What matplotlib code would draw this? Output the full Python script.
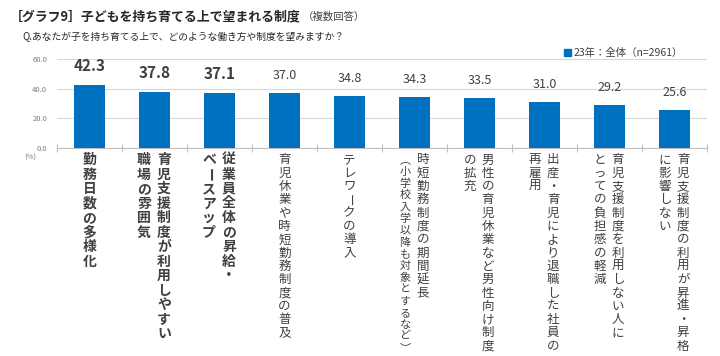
import matplotlib
matplotlib.use('Agg')
import matplotlib.pyplot as plt

plt.rcParams['font.family'] = ['Noto Sans CJK JP', 'DejaVu Sans']

values = [42.3, 37.8, 37.1, 37.0, 34.8, 34.3, 33.5, 31.0, 29.2, 25.6]
# each label is a list of vertical columns, read right to left
labels = [
    ['勤務日数の多様化'],
    ['育児支援制度が利用しやすい', '職場の雰囲気'],
    ['従業員全体の昇給・', 'ベースアップ'],
    ['育児休業や時短勤務制度の普及'],
    ['テレワークの導入'],
    ['時短勤務制度の期間延長', '︵小学校入学以降も対象とするなど︶'],
    ['男性の育児休業など男性向け制度', 'の拡充'],
    ['出産・育児により退職した社員の', '再雇用'],
    ['育児支援制度を利用しない人に', 'とっての負担感の軽減'],
    ['育児支援制度の利用が昇進・昇格', 'に影響しない'],
]
n_bold = 3
yticks = [0, 20, 40, 60]
legend_label = '23年：全体（n=2961）'
title = '［グラフ9］子どもを持ち育てる上で望まれる制度'
title_note = '（複数回答）'
question = 'Q.あなたが子を持ち育てる上で、どのような働き方や制度を望みますか？'

blue = '#0070C0'
text_col = '#404040'

fig = plt.figure(figsize=(7.2, 3.56), dpi=100)
ax = fig.add_axes([57 / 720, 1 - 148 / 356, 650 / 720, 89 / 356])

x = list(range(len(values)))
ax.bar(x, values, width=0.49, color=blue, zorder=3)
ax.set_xlim(-0.5, len(values) - 0.5)
ax.set_ylim(0, 60)
ax.set_yticks(yticks)
ax.set_yticklabels([f'{t:.1f}' for t in yticks], fontsize=5.5, color='#7f7f7f')
ax.tick_params(axis='y', length=0, pad=7)
ax.grid(axis='y', color='#d9d9d9', linewidth=0.8, zorder=0)
for s in ['top', 'right', 'left']:
    ax.spines[s].set_visible(False)
ax.spines['bottom'].set_color('#bfbfbf')
ax.set_xticks([i - 0.5 for i in range(len(values) + 1)])
ax.set_xticklabels([])
ax.tick_params(axis='x', direction='inout', length=6, color='#bfbfbf')

# value labels
for i, v in enumerate(values):
    bold = i < n_bold
    ax.annotate(f'{v:.1f}', xy=(i, v), xytext=(0, 11), textcoords='offset pixels',
                ha='center', va='bottom', fontsize=11 if bold else 9,
                fontweight='bold' if bold else 'normal', color=text_col)

# vertical category labels
max_len = 200
for i, cols in enumerate(labels):
    bold = i < n_bold
    gap = 20 if bold else 18
    base_fs = 10 if bold else 9
    base_step = 14.5 if bold else 13.3
    if len(cols) == 1:
        offsets = [0]
    else:
        offsets = [gap / 2 - 0.5, -gap / 2 - 0.5]
    for col, dx in zip(cols, offsets):
        step = min(base_step, max_len / len(col))
        fs = base_fs * step / base_step
        for k, ch in enumerate(col):
            ax.annotate(ch, xy=(i, 0), xycoords=ax.get_xaxis_transform(),
                        xytext=(dx, -12 - k * step), textcoords='offset pixels',
                        ha='center', va='center', fontsize=fs,
                        fontweight='bold' if bold else 'normal',
                        rotation=-90 if ch == 'ー' else 0,
                        color=text_col, annotation_clip=False)

fig.text(30 / 720, 1 - 158 / 356, '(%)', fontsize=5.5, color='#7f7f7f',
         ha='center', va='center')

# titles
t = fig.text(10 / 720, 1 - 16 / 356, title, fontsize=9.3, fontweight='bold',
             color='#262626', ha='left', va='center')
fig.canvas.draw()
bb = t.get_window_extent()
fig.text((bb.x1 + 2) / 720, 1 - 16.5 / 356, title_note, fontsize=7.5,
         color='#404040', ha='left', va='center')
fig.text(22 / 720, 1 - 37 / 356, question, fontsize=7, color='#262626',
         ha='left', va='center')

# legend
fig.patches.append(plt.Rectangle((564 / 720, 1 - 56 / 356), 7 / 720, 7 / 356,
                                 transform=fig.transFigure, color=blue))
fig.text(574 / 720, 1 - 52.5 / 356, legend_label, fontsize=7.5, color=text_col,
         ha='left', va='center')

fig.savefig('out.png', dpi=100)
